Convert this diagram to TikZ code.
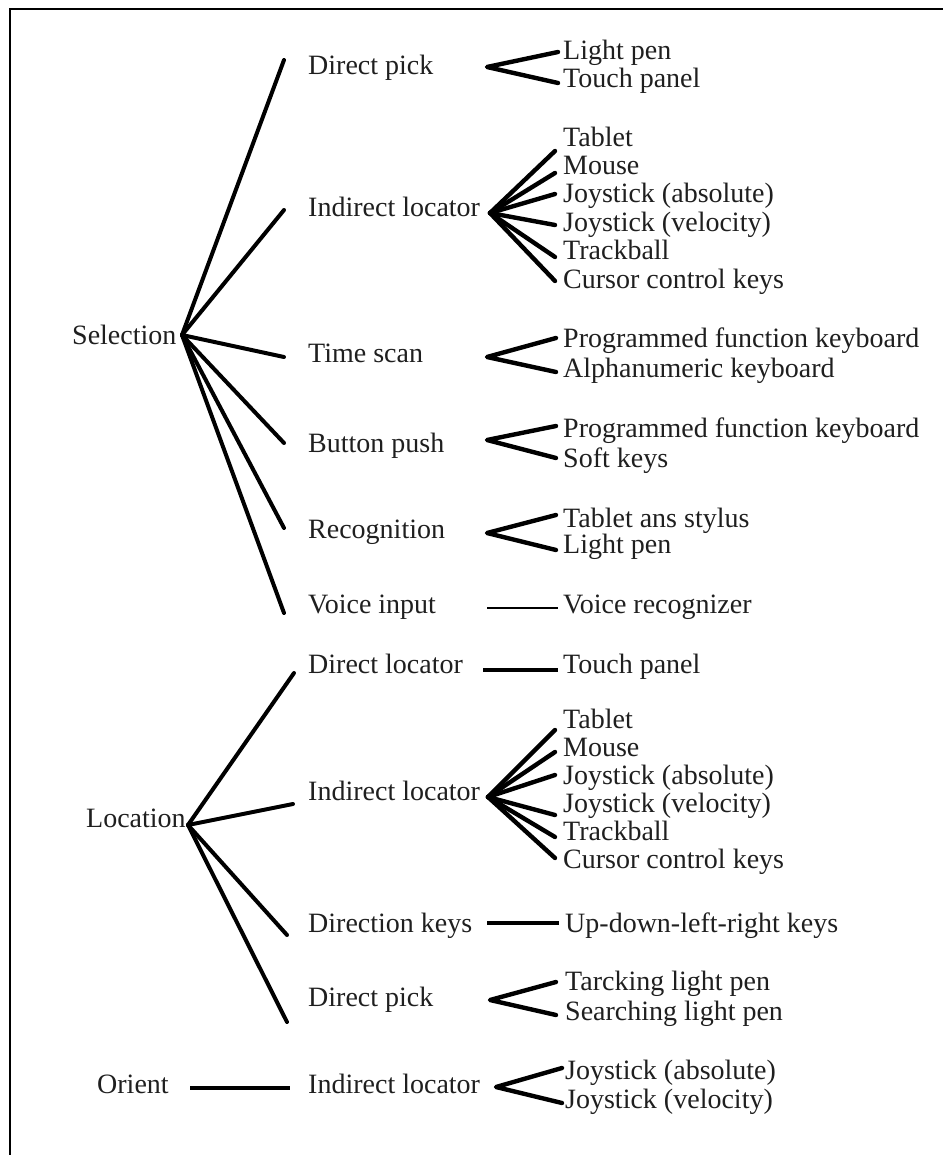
\documentclass[tikz,border=0pt]{standalone}
\usepackage{fontspec}
\setmainfont{Liberation Serif}
\begin{document}
\begin{tikzpicture}[x=1pt,y=-1pt,
  lbl/.style={anchor=base west, inner sep=0pt, text=black!88,
              font=\fontsize{28}{28}\selectfont},
  branch/.style={line width=4pt, line cap=round},
  fork/.style={line width=4.4pt, line cap=round, line join=round},
  slim/.style={line width=2.6pt},
  frame/.style={line width=2pt}]
\useasboundingbox (0,0) rectangle (943,1155);
\draw[frame] (10,1155) -- (10,9) -- (943,9);

% ---------------- Selection ----------------
\node[lbl] (sel) at (72,344) {Selection};
\coordinate (selhub) at (182,335);

\node[lbl] (s1) at (308,75)  {Direct pick};
\node[lbl] (s2) at (308,217) {Indirect locator};
\node[lbl] (s3) at (308,362) {Time scan};
\node[lbl] (s4) at (308,452) {Button push};
\node[lbl] (s5) at (308,538) {Recognition};
\node[lbl] (s6) at (308,613) {Voice input};

\coordinate (s1in) at (284,60);
\coordinate (s2in) at (284,210);
\coordinate (s3in) at (284,357);
\coordinate (s4in) at (284,443);
\coordinate (s5in) at (284,528);
\coordinate (s6in) at (284,613);
\foreach \k in {1,...,6} \draw[branch] (selhub) -- (s\k in);

% Direct pick
\coordinate (s1f) at (487,67);
\node[lbl] (s1a) at (563,60) {Light pen};
\node[lbl] (s1b) at (563,88) {Touch panel};
\coordinate (s1ae) at (558,52);
\coordinate (s1be) at (558,83);
\draw[fork] (s1ae) -- (s1f) -- (s1be);

% Indirect locator
\coordinate (s2f) at (490,213);
\node[lbl] (s2a) at (563,147) {Tablet};
\node[lbl] (s2b) at (563,175) {Mouse};
\node[lbl] (s2c) at (563,203) {Joystick (absolute)};
\node[lbl] (s2d) at (563,232) {Joystick (velocity)};
\node[lbl] (s2e) at (563,260) {Trackball};
\node[lbl] (s2g) at (563,288) {Cursor control keys};
\coordinate (s2ae) at (555,151);
\coordinate (s2be) at (555,173);
\coordinate (s2ce) at (555,194);
\coordinate (s2de) at (555,225);
\coordinate (s2ee) at (555,257);
\coordinate (s2ge) at (555,281);
\foreach \k in {a,b,c,d,e,g} \draw[fork] (s2f) -- (s2\k e);

% Time scan
\coordinate (s3f) at (487,357);
\node[lbl] (s3a) at (563,347) {Programmed function keyboard};
\node[lbl] (s3b) at (563,377) {Alphanumeric keyboard};
\coordinate (s3ae) at (556,338);
\coordinate (s3be) at (556,372);
\draw[fork] (s3ae) -- (s3f) -- (s3be);

% Button push
\coordinate (s4f) at (487,440);
\node[lbl] (s4a) at (563,437) {Programmed function keyboard};
\node[lbl] (s4b) at (563,467) {Soft keys};
\coordinate (s4ae) at (556,426);
\coordinate (s4be) at (556,458);
\draw[fork] (s4ae) -- (s4f) -- (s4be);

% Recognition
\coordinate (s5f) at (487,533);
\node[lbl] (s5a) at (563,527) {Tablet ans stylus};
\node[lbl] (s5b) at (563,553) {Light pen};
\coordinate (s5ae) at (556,515);
\coordinate (s5be) at (556,550);
\draw[fork] (s5ae) -- (s5f) -- (s5be);

% Voice input
\node[lbl] (s6a) at (563,613) {Voice recognizer};
\coordinate (s6f) at (487,608);
\coordinate (s6ae) at (558,608);
\draw[slim] (s6f) -- (s6ae);

% ---------------- Location ----------------
\node[lbl] (loc) at (86,827) {Location};
\coordinate (lochub) at (188,825);

\node[lbl] (l1) at (308,673)  {Direct locator};
\node[lbl] (l2) at (308,800)  {Indirect locator};
\node[lbl] (l3) at (308,932)  {Direction keys};
\node[lbl] (l4) at (308,1006) {Direct pick};

\coordinate (l1in) at (294,673);
\coordinate (l2in) at (293,804);
\coordinate (l3in) at (287,935);
\coordinate (l4in) at (287,1022);
\foreach \k in {1,...,4} \draw[branch] (lochub) -- (l\k in);

% Direct locator
\node[lbl] (l1a) at (563,673) {Touch panel};
\coordinate (l1f) at (483,670);
\coordinate (l1ae) at (558,670);
\draw[branch, line cap=butt] (l1f) -- (l1ae);

% Indirect locator
\coordinate (l2f) at (488,797);
\node[lbl] (l2a) at (563,728) {Tablet};
\node[lbl] (l2b) at (563,756) {Mouse};
\node[lbl] (l2c) at (563,784) {Joystick (absolute)};
\node[lbl] (l2d) at (563,812) {Joystick (velocity)};
\node[lbl] (l2e) at (563,840) {Trackball};
\node[lbl] (l2g) at (563,868) {Cursor control keys};
\coordinate (l2ae) at (555,730);
\coordinate (l2be) at (555,752);
\coordinate (l2ce) at (555,775);
\coordinate (l2de) at (555,815);
\coordinate (l2ee) at (555,837);
\coordinate (l2ge) at (555,858);
\foreach \k in {a,b,c,d,e,g} \draw[fork] (l2f) -- (l2\k e);

% Direction keys
\node[lbl] (l3a) at (565,932) {Up-down-left-right keys};
\coordinate (l3f) at (487,923);
\coordinate (l3ae) at (559,923);
\draw[branch, line cap=butt] (l3f) -- (l3ae);

% Direct pick
\coordinate (l4f) at (490,1000);
\node[lbl] (l4a) at (565,990)  {Tarcking light pen};
\node[lbl] (l4b) at (565,1020) {Searching light pen};
\coordinate (l4ae) at (556,982);
\coordinate (l4be) at (556,1015);
\draw[fork] (l4ae) -- (l4f) -- (l4be);

% ---------------- Orient ----------------
\node[lbl] (ori) at (97,1093) {Orient};
\node[lbl] (o1) at (308,1093) {Indirect locator};
\coordinate (orie) at (190,1088);
\coordinate (o1in) at (290,1088);
\draw[branch, line cap=butt] (orie) -- (o1in);

\coordinate (o1f) at (496,1087);
\node[lbl] (o1a) at (565,1079) {Joystick (absolute)};
\node[lbl] (o1b) at (565,1108) {Joystick (velocity)};
\coordinate (o1ae) at (562,1068);
\coordinate (o1be) at (562,1103);
\draw[fork] (o1ae) -- (o1f) -- (o1be);
\end{tikzpicture}
\end{document}
